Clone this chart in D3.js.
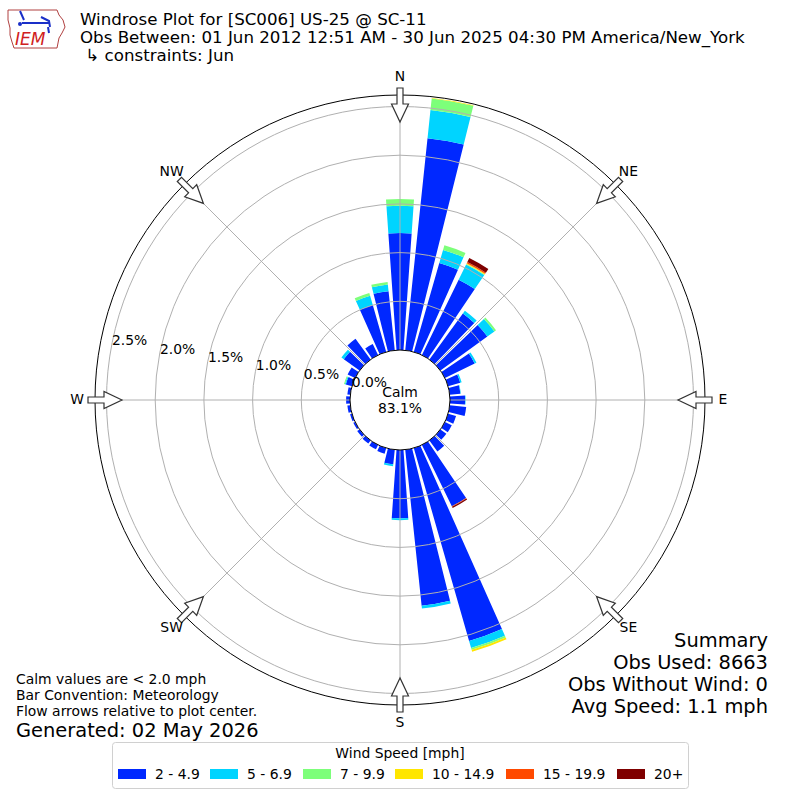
<!DOCTYPE html>
<html>
<meta charset="utf-8">
<style>
body { margin: 0; background: #fff; }
text { font-family: "DejaVu Sans", sans-serif; }
</style>
<script src="https://d3js.org/d3.v7.min.js"></script>
<body>
<div id="chart"></div>
<script>
// directions every 10 degrees, 0 = N (meteorology convention)
var directions = d3.range(0, 360, 10);
var speedBins = ["2 - 4.9", "5 - 6.9", "7 - 9.9", "10 - 14.9", "15 - 19.9", "20+"];
var binColors = ["#0028ff", "#00d4ff", "#7dff7a", "#ffe600", "#ff4a00", "#7f0000"];

// percent of obs per direction, one list per speed bin
var bin2to5 = [1.20, 2.19, 0.95, 0.86, 0.585, 0.595, 0.34, 0.13, 0.11, 0.155, 0.17, 0.085,
               0.078, 0.075, 0.14, 0.70, 2.06, 1.61, 0.70, 0.15, 0.06, 0.05, 0.04, 0.03,
               0.02, 0.02, 0.03, 0.04, 0.03, 0.065, 0.085, 0.20, 0.264, 0.125, 0.50, 0.61];
var bin5to7 = [0.28, 0.29, 0.14, 0.175, 0.035, 0.09, 0.02, 0.015, 0.005, 0.005, 0, 0,
               0, 0, 0, 0, 0.075, 0.03, 0.02, 0.02, 0, 0, 0, 0,
               0, 0, 0, 0, 0, 0.01, 0, 0.03, 0, 0, 0.10, 0.07];
var bin7to10 = [0.07, 0.12, 0.05, 0.006, 0, 0.02, 0, 0, 0, 0, 0, 0,
                0, 0, 0, 0, 0.02, 0, 0, 0, 0, 0, 0, 0,
                0, 0, 0, 0, 0, 0.01, 0, 0, 0, 0, 0.03, 0.025];
var bin10to15 = [0, 0.005, 0, 0.008, 0, 0, 0, 0, 0, 0, 0, 0,
                 0, 0, 0, 0, 0.02, 0, 0, 0, 0, 0, 0, 0,
                 0, 0, 0, 0, 0, 0, 0, 0, 0, 0, 0, 0];
var bin15to20 = [0, 0, 0, 0.015, 0, 0, 0, 0, 0, 0, 0, 0,
                 0, 0, 0, 0.005, 0, 0, 0, 0, 0, 0, 0, 0,
                 0, 0, 0, 0, 0, 0, 0, 0, 0, 0, 0, 0];
var bin20plus = [0, 0, 0, 0.045, 0, 0, 0, 0, 0, 0, 0, 0,
                 0, 0, 0, 0.015, 0, 0, 0, 0, 0, 0, 0, 0,
                 0, 0, 0, 0, 0, 0, 0, 0, 0, 0, 0, 0];
var allBins = [bin2to5, bin5to7, bin7to10, bin10to15, bin15to20, bin20plus];

var ringValues = [0, 0.5, 1.0, 1.5, 2.0, 2.5];
var ringLabels = ["0.0%", "0.5%", "1.0%", "1.5%", "2.0%", "2.5%"];
var compass = ["N", "NE", "E", "SE", "S", "SW", "W", "NW"];
var compassAngles = [0, 45, 90, 135, 180, 225, 270, 315];

var titleLines = ["Windrose Plot for [SC006] US-25 @ SC-11",
  "Obs Between: 01 Jun 2012 12:51 AM - 30 Jun 2025 04:30 PM America/New_York",
  " \u21b3 constraints: Jun"];
var noteLines = ["Calm values are < 2.0 mph", "Bar Convention: Meteorology",
  "Flow arrows relative to plot center."];
var summaryLines = ["Summary", "Obs Used: 8663", "Obs Without Wind: 0", "Avg Speed: 1.1 mph"];
var calmPct = "83.1%";

var width = 800, height = 800, cx = 400, cy = 400;
var calmR = 50, outerR = 305;

var svg = d3.select("#chart").append("svg")
  .attr("width", width).attr("height", height);

var r = d3.scaleLinear().domain([0, 2.5]).range([calmR, 293.5]);
var rad = Math.PI / 180;

var g = svg.append("g").attr("transform", "translate(" + cx + "," + cy + ")");

// outer spine
g.append("circle").attr("r", outerR).attr("fill", "none")
  .attr("stroke", "#000").attr("stroke-width", 1);

// stacked bars
var stacks = [];
directions.forEach(function(d, i) {
  var base = 0;
  allBins.forEach(function(bin, k) {
    if (bin[i] > 0) {
      stacks.push({dir: d, k: k, y0: base, y1: base + bin[i]});
      base += bin[i];
    }
  });
});

var arc = d3.arc()
  .innerRadius(function(d) { return r(d.y0); })
  .outerRadius(function(d) { return r(d.y1); })
  .startAngle(function(d) { return (d.dir - 4) * rad; })
  .endAngle(function(d) { return (d.dir + 4) * rad; });

g.selectAll("path.bar").data(stacks).enter().append("path")
  .attr("class", "bar")
  .attr("d", arc)
  .attr("fill", function(d) { return binColors[d.k]; });

// grid: rings and spokes drawn over the bars
g.selectAll("circle.ring").data(ringValues.slice(1)).enter().append("circle")
  .attr("class", "ring")
  .attr("r", function(d) { return r(d); })
  .attr("fill", "none").attr("stroke", "#b0b0b0").attr("stroke-width", 1);

g.selectAll("line.spoke").data(compassAngles).enter().append("line")
  .attr("class", "spoke")
  .attr("x1", 0).attr("y1", 0)
  .attr("x2", function(d) { return outerR * Math.sin(d * rad); })
  .attr("y2", function(d) { return -outerR * Math.cos(d * rad); })
  .attr("stroke", "#b0b0b0").attr("stroke-width", 1);

// calm circle
g.append("circle").attr("r", calmR).attr("fill", "#fff")
  .attr("stroke", "#000").attr("stroke-width", 1);
g.append("text").attr("x", 0).attr("y", -8).attr("text-anchor", "middle")
  .attr("dominant-baseline", "central").attr("font-size", 13.9).text("Calm");
g.append("text").attr("x", 0).attr("y", 8).attr("text-anchor", "middle")
  .attr("dominant-baseline", "central").attr("font-size", 13.9).text(calmPct);

// ring labels, 10 degrees above west
var labAng = 280 * rad;
g.selectAll("text.rlab").data(ringValues).enter().append("text")
  .attr("class", "rlab")
  .attr("x", function(d) { return r(d) * Math.sin(labAng) + 1; })
  .attr("y", function(d) { return -r(d) * Math.cos(labAng) - 4; })
  .attr("font-size", 13.9)
  .text(function(d, i) { return ringLabels[i]; });

// flow arrows pointing at center
var arrowPts = [[0, -278], [8.5, -296], [3, -296], [3, -312], [-3, -312], [-3, -296], [-8.5, -296]];
g.selectAll("polygon.arrow").data(compassAngles).enter().append("polygon")
  .attr("class", "arrow")
  .attr("points", arrowPts.map(function(p) { return p.join(","); }).join(" "))
  .attr("transform", function(d) { return "rotate(" + d + ")"; })
  .attr("fill", "#fff").attr("stroke", "#333").attr("stroke-width", 1.2);

// compass labels
g.selectAll("text.dir").data(compassAngles).enter().append("text")
  .attr("class", "dir")
  .attr("x", function(d) { return 323 * Math.sin(d * rad); })
  .attr("y", function(d) { return -323 * Math.cos(d * rad) - 1; })
  .attr("text-anchor", "middle").attr("dominant-baseline", "central")
  .attr("font-size", 13.9)
  .text(function(d, i) { return compass[i]; });

// title
svg.selectAll("text.title").data(titleLines).enter().append("text")
  .attr("class", "title")
  .attr("x", 80).attr("y", function(d, i) { return 25 + i * 18; })
  .attr("font-size", 16.67).attr("xml:space", "preserve")
  .style("white-space", "pre")
  .text(function(d) { return d; });

// logo (rough IEM mark)
var logo = svg.append("g");
logo.append("path")
  .attr("d", "M8,10 L57,10 L59,15 L63,20 L65,27 L62,33 L59,38 L58,43 L57,48 L14,48 L12,42 L10,35 L10,28 L8,20 Z")
  .attr("fill", "none").attr("stroke", "#b04040").attr("stroke-width", 1);
logo.append("path").attr("d", "M20,11 L24,20 M22,23 L50,23 M41,17 L49,21 L50,27 M48,27 L49,33")
  .attr("fill", "none").attr("stroke", "#1a2fc8").attr("stroke-width", 2);
logo.append("circle").attr("cx", 20).attr("cy", 24).attr("r", 2).attr("fill", "#1a2fc8");
logo.append("text").attr("x", 15).attr("y", 45)
  .attr("font-family", "Liberation Serif, serif").attr("font-style", "italic")
  .attr("font-size", 17).attr("fill", "#d02020").text("IEM");

// notes bottom-left
svg.selectAll("text.note").data(noteLines).enter().append("text")
  .attr("class", "note")
  .attr("x", 16).attr("y", function(d, i) { return 684 + i * 16; })
  .attr("font-size", 13.9).text(function(d) { return d; });
svg.append("text").attr("x", 16).attr("y", 737).attr("font-size", 19.44)
  .text("Generated: 02 May 2026");

// summary bottom-right
svg.selectAll("text.summ").data(summaryLines).enter().append("text")
  .attr("class", "summ")
  .attr("x", 768).attr("y", function(d, i) { return 647 + i * 22; })
  .attr("text-anchor", "end").attr("font-size", 19.44)
  .text(function(d) { return d; });

// legend
var leg = svg.append("g");
leg.append("rect").attr("x", 112.5).attr("y", 742.5).attr("width", 576).attr("height", 46)
  .attr("rx", 3).attr("fill", "#fff").attr("stroke", "#d0d0d0");
leg.append("text").attr("x", 400).attr("y", 758).attr("text-anchor", "middle")
  .attr("font-size", 13.9).text("Wind Speed [mph]");
var legX = [118, 210, 303, 395, 506, 617];
speedBins.forEach(function(s, i) {
  leg.append("rect").attr("x", legX[i]).attr("y", 769).attr("width", 28).attr("height", 10)
    .attr("fill", binColors[i]);
  leg.append("text").attr("x", legX[i] + 37).attr("y", 779).attr("font-size", 13.9).text(s);
});
</script>
</body>
</html>
